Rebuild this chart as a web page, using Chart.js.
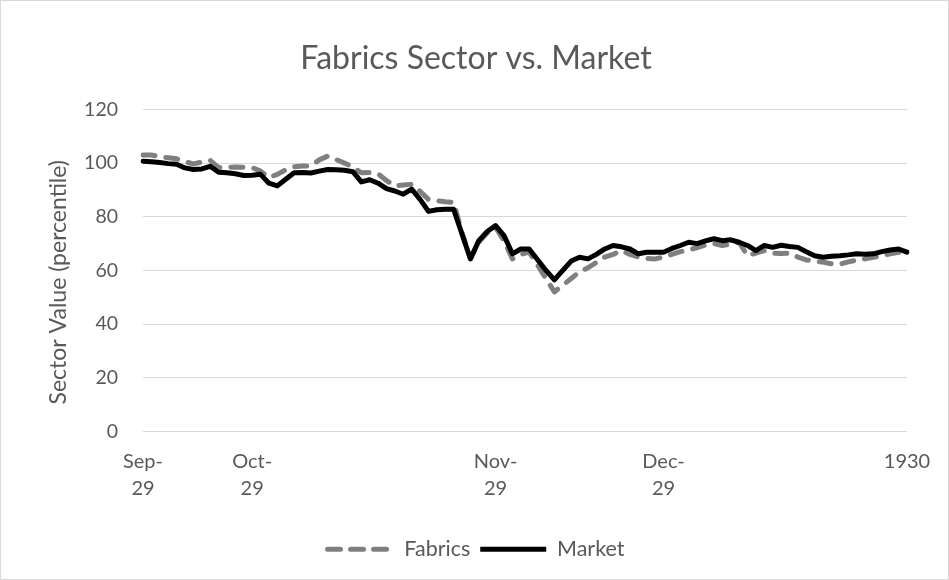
<!DOCTYPE html>
<html>
<head>
<meta charset="utf-8">
<script src="https://cdn.jsdelivr.net/npm/chart.js@4.4.0/dist/chart.umd.min.js"></script>
<style>
  html, body { margin: 0; padding: 0; background: #fff; }
</style>
</head>
<body>
<canvas id="myChart" width="949" height="580"></canvas>
<script>
// Series values (sector value, percentile)
var fabrics = [
  103.0, 103.0, 102.4, 102.0, 101.6, 100.5, 99.7, 100.4, 101.0, 98.3,
  98.4, 98.5, 98.4, 98.3, 97.0, 94.6, 95.8, 97.5, 98.6, 98.9,
  99.0, 101.2, 102.6, 101.3, 100.0, 98.5, 96.4, 96.5, 96.0, 93.5,
  91.5, 91.8, 92.1, 89.5, 86.5, 86.0, 85.6, 85.3, 74.0, 64.5,
  70.5, 74.0, 76.0, 71.0, 64.3, 66.0, 66.8, 62.0, 57.0, 52.0,
  54.5, 57.0, 59.5, 61.0, 63.0, 65.0, 66.0, 67.4, 66.0, 65.0,
  64.5, 64.3, 65.0, 66.0, 67.0, 67.6, 68.5, 69.5, 70.0, 69.3,
  69.8, 70.5, 65.5, 66.5, 67.4, 66.5, 66.3, 66.5, 65.0, 63.9,
  63.5, 63.1, 62.5, 62.3, 63.2, 63.8, 64.3, 64.9, 65.5, 66.2,
  66.8, 66.8
];
var market = [
  100.7, 100.5, 100.2, 99.8, 99.6, 98.2, 97.6, 97.8, 98.8, 96.6,
  96.4, 96.0, 95.4, 95.5, 95.8, 92.5, 91.5, 94.0, 96.4, 96.5,
  96.3, 97.0, 97.6, 97.5, 97.3, 96.8, 93.0, 93.8, 92.5, 90.5,
  89.6, 88.4, 90.3, 86.5, 82.0, 82.6, 82.8, 82.8, 73.5, 64.3,
  71.1, 74.5, 76.7, 73.0, 66.2, 68.0, 68.0, 64.0, 60.0, 56.5,
  60.0, 63.5, 64.9, 64.3, 66.0, 68.0, 69.3, 68.8, 68.0, 66.2,
  66.8, 66.8, 66.8, 68.2, 69.3, 70.5, 70.0, 71.0, 71.8, 71.1,
  71.4, 70.5, 69.3, 67.4, 69.3, 68.6, 69.4, 68.9, 68.6, 67.0,
  65.5, 64.9, 65.3, 65.5, 65.8, 66.2, 66.0, 66.2, 67.0, 67.6,
  68.0, 66.8
];

// Category labels: only a few points carry a label
var tickLabels = [['Sep-', '29'], ['Oct-', '29'], ['Nov-', '29'], ['Dec-', '29'], '1930'];
var tickPositions = [0, 13, 42, 62, 91];

var categories = market.map(function() { return ''; });
tickPositions.forEach(function(p, i) { categories[p] = tickLabels[i]; });

var FONT = 'Lato';
var GREY_TEXT = '#595959';

// white background + light frame like the Excel chart area
var frame = {
  id: 'frame',
  beforeDraw: function(chart) {
    var c = chart.ctx;
    c.save();
    c.fillStyle = '#ffffff';
    c.fillRect(0, 0, chart.width, chart.height);
    c.restore();
  },
  afterDraw: function(chart) {
    var c = chart.ctx;
    c.save();
    c.strokeStyle = '#d9d9d9';
    c.lineWidth = 1;
    c.strokeRect(0.5, 0.5, chart.width - 1, chart.height - 1);
    c.restore();
  }
};

var ctx = document.getElementById('myChart').getContext('2d');
var myChart = new Chart(ctx, {
  type: 'line',
  data: {
    labels: categories,
    datasets: [{
      label: 'Fabrics',
      data: fabrics,
      borderColor: '#7f7f7f',
      backgroundColor: '#7f7f7f',
      borderWidth: 5,
      borderDash: [12, 11],
      borderCapStyle: 'round',
      borderJoinStyle: 'round',
      pointRadius: 0,
      tension: 0,
      order: 1
    }, {
      label: 'Market',
      data: market,
      borderColor: '#000000',
      backgroundColor: '#000000',
      borderWidth: 5,
      borderCapStyle: 'round',
      borderJoinStyle: 'round',
      pointRadius: 0,
      tension: 0,
      order: 0
    }]
  },
  options: {
    responsive: false,
    animation: false,
    devicePixelRatio: 1,
    layout: { padding: { top: 20, left: 45, right: 42, bottom: 10 } },
    plugins: {
      title: {
        display: true,
        text: 'Fabrics Sector vs. Market',
        color: GREY_TEXT,
        font: { family: FONT, size: 32, weight: 'normal', lineHeight: 1.2 },
        padding: { top: 19, bottom: 32 }
      },
      legend: {
        position: 'bottom',
        labels: {
          color: GREY_TEXT,
          font: { family: FONT, size: 21.5 },
          usePointStyle: true,
          pointStyle: 'line',
          pointStyleWidth: 66,
          boxWidth: 66,
          padding: 10,
          sort: function(a, b) { return a.datasetIndex - b.datasetIndex; },
          // the point-style legend drops the dataset dash, so put it back
          generateLabels: function(chart) {
            var items = Chart.defaults.plugins.legend.labels.generateLabels(chart);
            items.forEach(function(it) {
              var ds = chart.data.datasets[it.datasetIndex];
              it.lineDash = ds.borderDash ? [13, 10] : [];
              it.lineWidth = ds.borderWidth;
              it.lineCap = ds.borderDash ? 'round' : 'butt';
              it.strokeStyle = ds.borderColor;
            });
            return items;
          }
        }
      },
      tooltip: { enabled: false }
    },
    scales: {
      x: {
        offset: false,
        grid: { display: false, drawTicks: false },
        border: { display: false },
        ticks: {
          autoSkip: false,
          maxRotation: 0,
          minRotation: 0,
          padding: 17,
          color: GREY_TEXT,
          font: { family: FONT, size: 20, lineHeight: 1.35 }
        },
        afterFit: function(scale) { scale.height = 97; }
      },
      y: {
        min: 0,
        max: 120,
        grid: { color: '#d9d9d9', lineWidth: 1, drawTicks: false },
        border: { display: false },
        ticks: {
          stepSize: 20,
          padding: 25,
          color: GREY_TEXT,
          font: { family: FONT, size: 19.5 }
        },
        title: {
          display: true,
          text: 'Sector Value (percentile)    ',
          color: GREY_TEXT,
          font: { family: FONT, size: 23, lineHeight: 1.2 },
          padding: { top: 0, bottom: 0 }
        },
        afterFit: function(scale) { scale.width = 98; }
      }
    }
  },
  plugins: [frame]
});
</script>
</body>
</html>
